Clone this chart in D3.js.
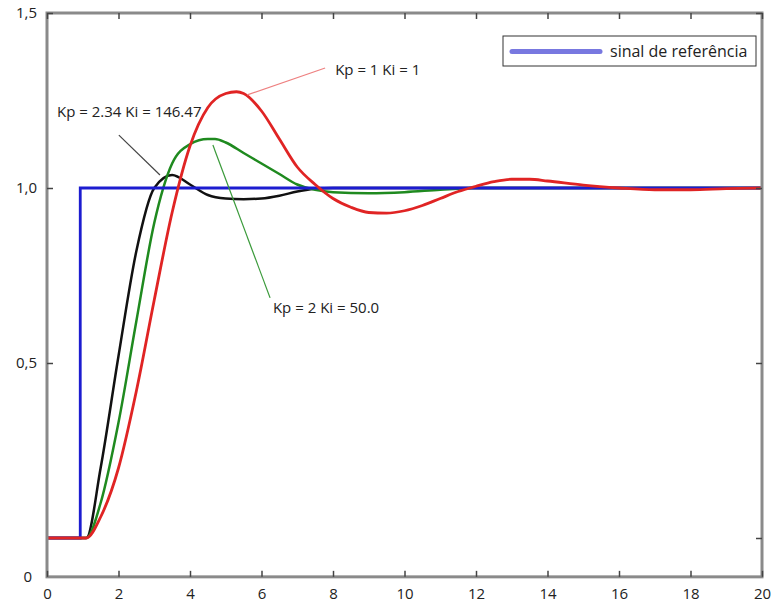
<!DOCTYPE html>
<html>
<head>
<meta charset="utf-8">
<script src="https://cdn.jsdelivr.net/npm/d3@7"></script>
<style>
  html, body { margin: 0; padding: 0; background: #fff; }
  svg { display: block; font-family: "Open Sans", "DejaVu Sans", sans-serif; }
</style>
</head>
<body>
<svg id="chart" width="771" height="603"></svg>
<script>
// ---------- data ----------
const xTickValues = [0, 2, 4, 6, 8, 10, 12, 14, 16, 18, 20];
const yTickValues = [0, 0.5, 1.0, 1.5];
const yTickLabels = ["0", "0,5", "1,0", "1,5"];

const refT = [0, 0.93, 0.93, 20];
const refV = [0, 0, 1, 1];

const redT = [0, 1.1, 1.5, 2, 2.5, 3, 3.5, 4, 4.5, 5, 5.3, 5.5, 6, 6.5, 7, 7.5, 8, 8.5, 9, 9.5, 10, 10.5, 11, 11.5, 12, 12.5, 13, 13.5, 14, 15, 16, 17, 18, 19, 20];
const redV = [0, 0, 0.06, 0.2, 0.42, 0.68, 0.93, 1.12, 1.23, 1.27, 1.275, 1.27, 1.22, 1.14, 1.06, 1.01, 0.97, 0.945, 0.93, 0.928, 0.935, 0.95, 0.97, 0.99, 1.005, 1.018, 1.025, 1.025, 1.02, 1.008, 1.0, 0.995, 0.995, 0.998, 1.0];

const greenT = [0, 1.1, 1.5, 2, 2.5, 3, 3.5, 4, 4.5, 4.7, 5, 5.5, 6, 6.5, 7, 7.5, 8, 9, 10, 11, 12, 20];
const greenV = [0, 0, 0.1, 0.33, 0.62, 0.9, 1.07, 1.125, 1.14, 1.14, 1.13, 1.1, 1.07, 1.04, 1.01, 0.995, 0.988, 0.985, 0.988, 0.995, 1.0, 1.0];

const blackT = [0, 1.1, 1.5, 2, 2.5, 3, 3.5, 4, 4.5, 5, 5.5, 6, 6.5, 7, 7.5, 8, 20];
const blackV = [0, 0, 0.2, 0.52, 0.82, 1.0, 1.037, 1.01, 0.98, 0.97, 0.968, 0.97, 0.978, 0.99, 0.998, 1.0, 1.0];

const legendLabel = "sinal de referência";

// annotations
const annLabels = ["Kp = 1 Ki = 1", "Kp = 2.34 Ki = 146.47", "Kp = 2 Ki = 50.0"];
const annTextT = [8.06, 0.28, 6.32];
const annTextV = [1.337, 1.217, 0.657];
const annLineT1 = [5.6, 2.01, 4.64];
const annLineV1 = [1.266, 1.151, 1.123];
const annLineT2 = [7.78, 3.16, 6.24];
const annLineV2 = [1.343, 1.037, 0.686];
const annColors = ["#ee8080", "#444444", "#3a9a3a"];

const yMin = -0.111;

// ---------- layout ----------
const svg = d3.select("#chart");
const x = d3.scaleLinear().domain([0, 20]).range([47, 762]);
const y = d3.scaleLinear().domain([0, 1.5]).range([538, 13]);
const pLeft = x(0), pRight = x(20), pTop = y(1.5), pBottom = y(yMin);

const zip = (T, V) => T.map((t, i) => [t, V[i]]);
const line = d3.line().x(d => x(d[0])).y(d => y(d[1])).curve(d3.curveMonotoneX);
const stepLine = d3.line().x(d => x(d[0])).y(d => y(d[1]));

// series
svg.append("path").datum(zip(blackT, blackV)).attr("d", line)
  .attr("fill", "none").attr("stroke", "#111").attr("stroke-width", 2.5);
svg.append("path").datum(zip(greenT, greenV)).attr("d", line)
  .attr("fill", "none").attr("stroke", "#1f8a1f").attr("stroke-width", 2.5);
svg.append("path").datum(zip(refT, refV)).attr("d", stepLine)
  .attr("fill", "none").attr("stroke", "#1c1cd0").attr("stroke-width", 2.8);
svg.append("path").datum(zip(redT, redV)).attr("d", line)
  .attr("fill", "none").attr("stroke", "#e02424").attr("stroke-width", 2.8);

// annotations
annLabels.forEach((lab, i) => {
  svg.append("line")
    .attr("x1", x(annLineT1[i])).attr("y1", y(annLineV1[i]))
    .attr("x2", x(annLineT2[i])).attr("y2", y(annLineV2[i]))
    .attr("stroke", annColors[i]).attr("stroke-width", 1.2);
  svg.append("text")
    .attr("x", x(annTextT[i])).attr("y", y(annTextV[i]))
    .attr("dy", "0.35em").attr("font-size", 15).attr("fill", "#222")
    .text(lab);
});

// frame
svg.append("rect").attr("x", pLeft).attr("y", pTop)
  .attr("width", pRight - pLeft).attr("height", pBottom - pTop)
  .attr("fill", "none").attr("stroke", "#8a8a8a").attr("stroke-width", 3);

// axes (inward ticks)
const gx = svg.append("g").attr("transform", `translate(0,${pBottom})`)
  .call(d3.axisBottom(x).tickValues(xTickValues).tickSize(-6).tickPadding(12).tickFormat(d3.format("d")));
const gxTop = svg.append("g").attr("transform", `translate(0,${pTop})`)
  .call(d3.axisTop(x).tickValues(xTickValues).tickSize(-6).tickFormat(""));
const gy = svg.append("g").attr("transform", `translate(${pLeft},0)`)
  .call(d3.axisLeft(y).tickValues(yTickValues.slice(1)).tickSize(-6).tickPadding(10)
    .tickFormat(d => yTickLabels[yTickValues.indexOf(d)]));
const gyR = svg.append("g").attr("transform", `translate(${pRight},0)`)
  .call(d3.axisRight(y).tickValues(yTickValues).tickSize(-6).tickFormat(""));

[gx, gxTop, gy, gyR].forEach(g => {
  g.select(".domain").remove();
  g.selectAll(".tick line").attr("stroke", "#444").attr("stroke-width", 1.5);
  g.selectAll("text").attr("font-size", 15).attr("fill", "#222")
    .attr("font-family", "'Open Sans', 'DejaVu Sans', sans-serif");
});
// the "0" label sits at the bottom edge of the frame
svg.append("text").attr("x", 32).attr("y", pBottom).attr("dy", "0.35em")
  .attr("text-anchor", "end").attr("font-size", 15).attr("fill", "#222")
  .text(yTickLabels[0]);

// legend
const lg = svg.append("g");
lg.append("rect").attr("x", 503).attr("y", 36).attr("width", 253).attr("height", 30)
  .attr("fill", "#fff").attr("stroke", "#333").attr("stroke-width", 1);
lg.append("line").attr("x1", 512).attr("x2", 600).attr("y1", 51.5).attr("y2", 51.5)
  .attr("stroke", "#7878e0").attr("stroke-width", 5).attr("stroke-linecap", "round");
lg.append("text").attr("x", 610).attr("y", 51.5).attr("dy", "0.35em")
  .attr("font-size", 16).attr("fill", "#222").text(legendLabel);
</script>
</body>
</html>
